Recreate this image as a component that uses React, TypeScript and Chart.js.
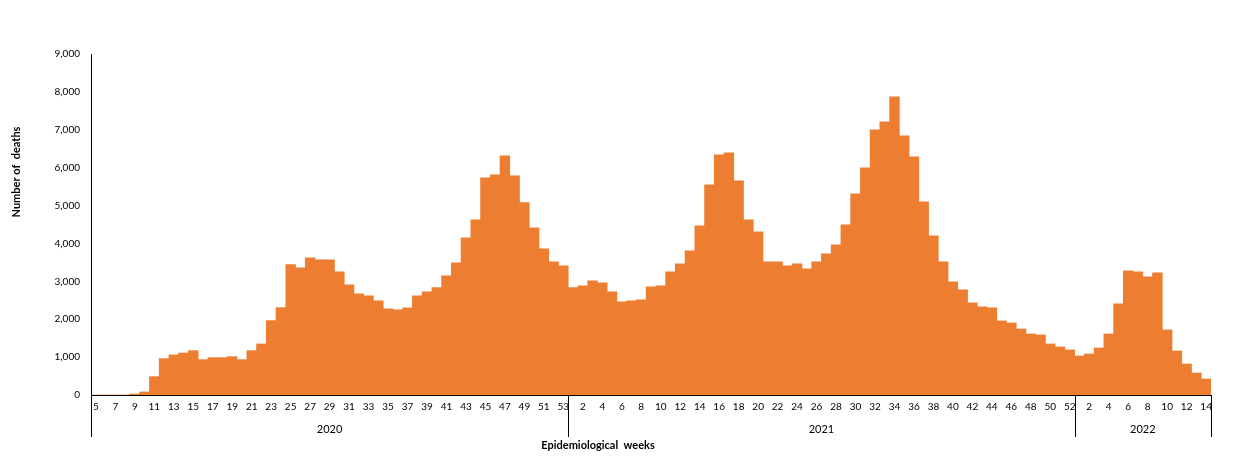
import React, { useEffect, useRef } from "react";
import { Chart, registerables } from "chart.js";

Chart.register(...registerables);

const years = ["2020", "2021", "2022"];
const weeks2020 = Array.from({ length: 49 }, (_, i) => i + 5);
const weeks2021 = Array.from({ length: 52 }, (_, i) => i + 1);
const weeks2022 = Array.from({ length: 14 }, (_, i) => i + 1);

const deaths2020 = [
  0, 0, 0, 0, 26, 80, 484, 960, 1057, 1109, 1171, 933, 986, 986, 1012, 933,
  1171, 1347, 1963, 2306, 3442, 3355, 3619, 3566, 3566, 3249, 2905, 2668, 2615,
  2483, 2271, 2245, 2298, 2615, 2720, 2835, 3143, 3486, 4147, 4622, 5731, 5811,
  6313, 5784, 5080, 4411, 3856, 3513, 3407,
];
const deaths2021 = [
  2835, 2879, 3011, 2958, 2720, 2456, 2483, 2509, 2853, 2879, 3249, 3460, 3803,
  4464, 5547, 6339, 6392, 5652, 4622, 4305, 3513, 3513, 3407, 3460, 3328, 3513,
  3724, 3962, 4490, 5309, 5996, 6999, 7210, 7871, 6841, 6286, 5098, 4200, 3513,
  2985, 2773, 2430, 2324, 2298, 1955, 1902, 1743, 1611, 1585, 1347, 1268, 1189,
];
const deaths2022 = [
  1030, 1083, 1241, 1611, 2404, 3275, 3249, 3117, 3222, 1717, 1162, 819, 581, 423,
];

const yTicks = [0, 1000, 2000, 3000, 4000, 5000, 6000, 7000, 8000, 9000];
const yTitle = "Number of  deaths";
const xTitle = "Epidemiological  weeks";

const groups = [weeks2020, weeks2021, weeks2022];
const labels: string[] = groups.flatMap((g) => g.map((w) => String(w)));
const showLabel: boolean[] = groups.flatMap((g, gi) =>
  g.map((w) => (gi === 0 ? w % 2 === 1 : w % 2 === 0))
);
const values = [...deaths2020, ...deaths2021, ...deaths2022];

const FONT = "Lato, 'Liberation Sans', sans-serif";

const decorPlugin = {
  id: "decor",
  afterDraw(chart: any) {
    const { ctx, chartArea } = chart;
    const xs = chart.scales.x;
    const base = chartArea.bottom;
    const bounds: number[] = [chartArea.left];
    let idx = 0;
    groups.forEach((g, gi) => {
      idx += g.length;
      if (gi < groups.length - 1) {
        bounds.push((xs.getPixelForValue(idx - 1) + xs.getPixelForValue(idx)) / 2);
      }
    });
    bounds.push(chartArea.right);
    ctx.save();
    ctx.strokeStyle = "#000";
    ctx.lineWidth = 1;
    // baseline drawn over the bars
    ctx.beginPath();
    ctx.moveTo(chartArea.left, Math.round(base) + 0.5);
    ctx.lineTo(chartArea.right, Math.round(base) + 0.5);
    ctx.stroke();
    bounds.forEach((b) => {
      const x = Math.round(b) + 0.5;
      ctx.beginPath();
      ctx.moveTo(x, base);
      ctx.lineTo(x, base + 42);
      ctx.stroke();
    });
    ctx.fillStyle = "#000";
    ctx.font = `11px ${FONT}`;
    ctx.textAlign = "center";
    ctx.textBaseline = "middle";
    years.forEach((y, i) => {
      ctx.fillText(y, (bounds[i] + bounds[i + 1]) / 2, base + 34);
    });
    ctx.font = `bold 11px ${FONT}`;
    ctx.fillText(xTitle, 598, base + 50);
    ctx.translate(16, 172);
    ctx.rotate(-Math.PI / 2);
    ctx.fillText(yTitle, 0, 0);
    ctx.restore();
  },
};

export default function App() {
  const ref = useRef<HTMLCanvasElement | null>(null);
  useEffect(() => {
    if (!ref.current) return;
    const chart = new Chart(ref.current, {
      type: "bar",
      data: {
        labels,
        datasets: [
          {
            data: values,
            backgroundColor: "#ED7D31",
            borderWidth: 0,
            barPercentage: 1,
            categoryPercentage: 1,
          },
        ],
      },
      options: {
        animation: false,
        responsive: true,
        maintainAspectRatio: false,
        layout: { padding: { top: 54, right: 37, left: 0, bottom: 0 } },
        plugins: { legend: { display: false }, tooltip: { enabled: false } },
        scales: {
          x: {
            grid: { display: false, drawTicks: false },
            border: { display: true, color: "#000", width: 1 },
            ticks: {
              autoSkip: false,
              maxRotation: 0,
              minRotation: 0,
              padding: 6,
              color: "#000",
              font: { family: FONT, size: 10 },
              callback: (_v: any, i: number) => (showLabel[i] ? labels[i] : ""),
            },
            afterFit: (s: any) => {
              s.height = 63;
            },
          },
          y: {
            min: 0,
            max: 9000,
            afterBuildTicks: (s: any) => {
              s.ticks = yTicks.map((v) => ({ value: v }));
            },
            grid: { display: false, drawTicks: false },
            border: { display: true, color: "#000", width: 1 },
            ticks: {
              padding: 11,
              color: "#000",
              font: { family: FONT, size: 10 },
              callback: (v: any) => Number(v).toLocaleString("en-US"),
            },
            afterFit: (s: any) => {
              s.width = 91;
            },
          },
        },
      },
      plugins: [decorPlugin],
    });
    return () => chart.destroy();
  }, []);
  return (
    <div style={{ position: "absolute", left: 0, top: 0, width: 1248, height: 458, background: "#fff" }}>
      <canvas ref={ref} />
    </div>
  );
}
